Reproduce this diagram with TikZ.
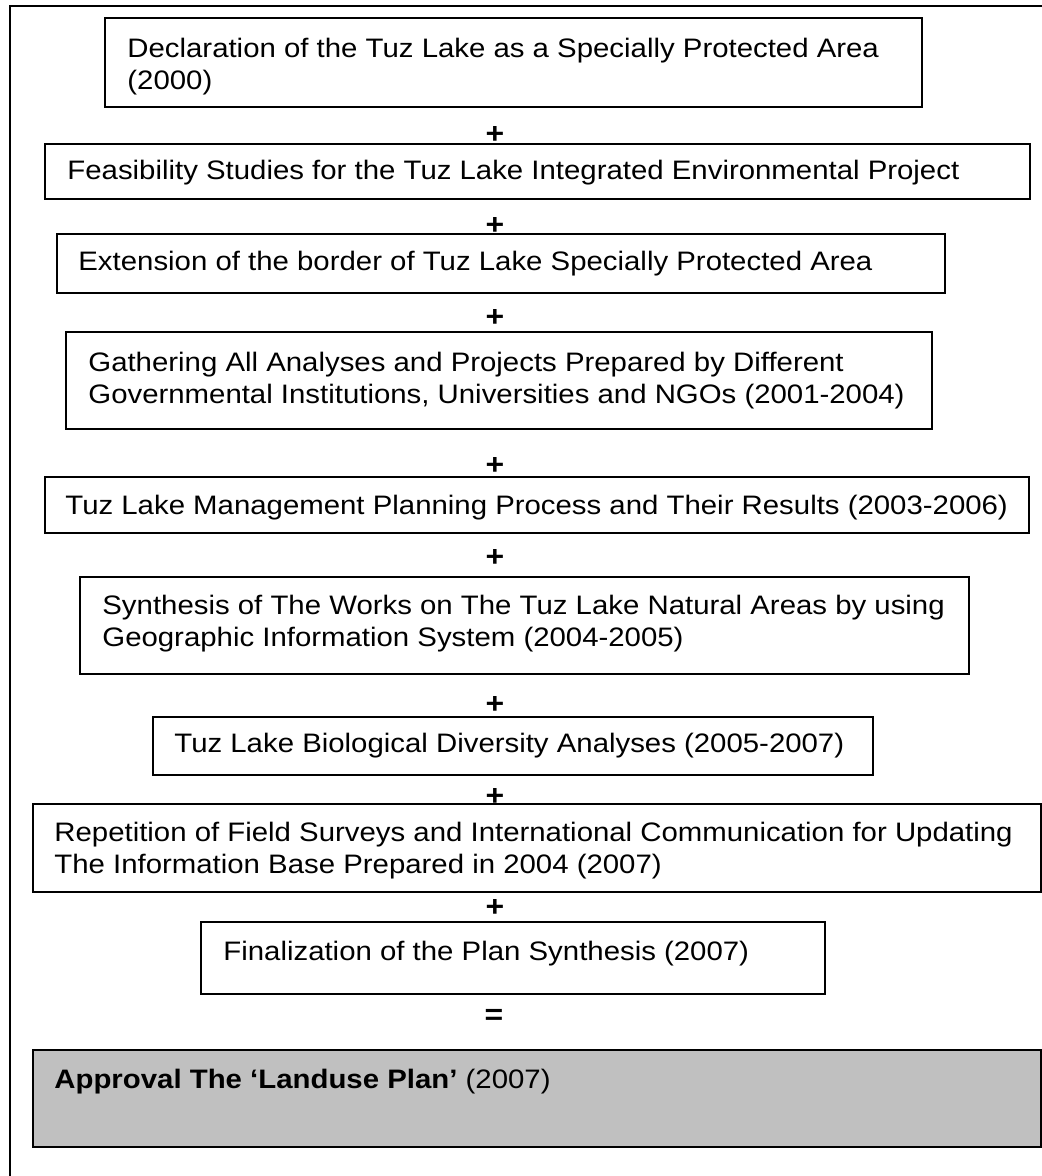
\documentclass[tikz,border=0pt]{standalone}
\usepackage{fontspec}
\setmainfont[FakeStretch=1.1]{Liberation Sans}
\usetikzlibrary{fit}
\definecolor{approvalgray}{HTML}{C0C0C0}
\begin{document}
\begin{tikzpicture}[x=0.5pt,y=-0.5pt,
  box/.style={draw=black,line width=0.75pt,inner sep=0pt},
  finalbox/.style={box,fill=approvalgray},
  txt/.style={inner sep=0pt,align=left,anchor=west,font=\fontsize{13.35pt}{16pt}\selectfont},
  op/.style={inner sep=0pt,font=\fontsize{14.5pt}{16pt}\selectfont\bfseries},
  frame/.style={line width=1pt}]
\useasboundingbox (0,0) rectangle (1042,1176);
\begin{scope}
\clip (0,0) rectangle (1042,1176);
\draw[frame] (10,1200) -- (10,6) -- (1060,6);
\node[box,fit={(105,18) (922,107)}] (b1) {};
\node[box,fit={(45,144) (1030,199)}] (b2) {};
\node[box,fit={(57,234) (945,293)}] (b3) {};
\node[box,fit={(66,332) (932,429)}] (b4) {};
\node[box,fit={(45,477) (1029,533)}] (b5) {};
\node[box,fit={(80,577) (969,674)}] (b6) {};
\node[box,fit={(153,717) (873,775)}] (b7) {};
\node[box,fit={(33,804) (1041,892)}] (b8) {};
\node[box,fit={(201,922) (825,994)}] (b9) {};
\node[finalbox,fit={(33,1050) (1041,1147)}] (b10) {};
\end{scope}
\node[txt] (t1) at (127,67) {Declaration of the Tuz Lake as a Specially Protected Area\\(2000)};
\node[txt] (t2) at (67,173) {Feasibility Studies for the Tuz Lake Integrated Environmental Project};
\node[txt] (t3) at (78,264) {Extension of the border of Tuz Lake Specially Protected Area};
\node[txt] (t4) at (88,381) {Gathering All Analyses and Projects Prepared by Different\\Governmental Institutions, Universities and NGOs (2001-2004)};
\node[txt] (t5) at (65,508) {Tuz Lake Management Planning Process and Their Results (2003-2006)};
\node[txt] (t6) at (102,624) {Synthesis of The Works on The Tuz Lake Natural Areas by using\\Geographic Information System (2004-2005)};
\node[txt] (t7) at (174,746) {Tuz Lake Biological Diversity Analyses (2005-2007)};
\node[txt] (t8) at (54,851) {Repetition of Field Surveys and International Communication for Updating\\The Information Base Prepared in 2004 (2007)};
\node[txt] (t9) at (223,954) {Finalization of the Plan Synthesis (2007)};
\node[txt] (t10) at (54,1082) {\textbf{Approval The ‘Landuse Plan’} (2007)};
\node[op] (p1) at (495,135) {+};
\node[op] (p2) at (495,226) {+};
\node[op] (p3) at (495,318) {+};
\node[op] (p4) at (495,466) {+};
\node[op] (p5) at (495,558) {+};
\node[op] (p6) at (495,705) {+};
\node[op] (p7) at (495,797) {+};
\node[op] (p8) at (495,908) {+};
\node[op] (eq) at (494,1017) {=};
\end{tikzpicture}
\end{document}
